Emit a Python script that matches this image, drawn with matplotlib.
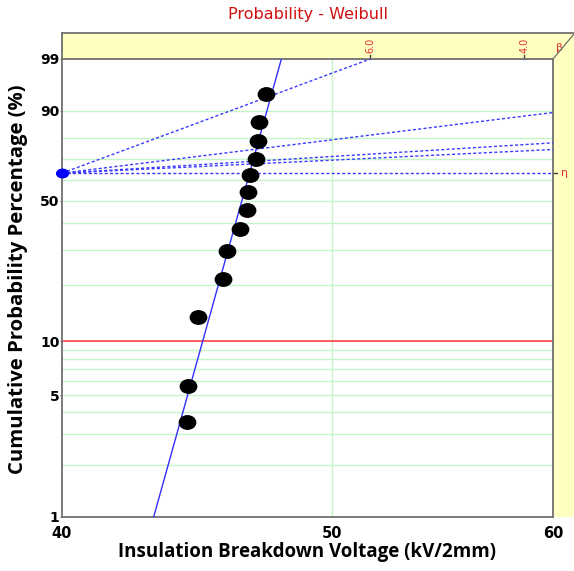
import numpy as np
import matplotlib
matplotlib.use('Agg')
import matplotlib.pyplot as plt
from matplotlib.path import Path
from matplotlib.transforms import Affine2D
from matplotlib.patches import Rectangle
from matplotlib.lines import Line2D

# ---------------- data ----------------
voltage = [44.34, 44.38, 44.76, 45.67, 45.85, 46.32, 46.60, 46.66, 46.70, 46.95, 47.01, 47.05, 47.34]
prob_pct = [3.5, 5.6, 13.6, 21.5, 29.7, 37.9, 45.9, 53.9, 62.2, 70.3, 78.3, 86.3, 94.4]
fit_beta = 58.1
fit_eta = 46.70
beta_guides = [6.0, 2.0, 1.0, 0.78, 0.0]
beta_scale_ticks = [6.0, 4.0]
ytick_pct = [1, 5, 10, 50, 90, 99]
ygrid_pct = [2, 3, 4, 5, 6, 7, 8, 9, 20, 30, 40, 50, 60, 70, 80, 90]
red_pct = 10
xticks = [40, 50, 60]
xgrid = [50]
pivot_x = 40.0

def w(p):
    p = np.asarray(p, dtype=float) / 100.0
    return np.log(-np.log(1.0 - p))

W, H, DPI = 574, 571, 100
fig = plt.figure(figsize=(W / DPI, H / DPI), dpi=DPI)
L, R, B, T = 62, 553, 517, 59  # pixel geometry of plot area
band_top = 33
ax = fig.add_axes([L / W, 1 - B / H, (R - L) / W, (B - T) / H])

ymin, ymax = w(1), w(99)
ax.set_xscale('log')
ax.set_xlim(40, 60)
ax.set_ylim(ymin, ymax)

# grid
gc = '#c4f5c4'
for g in ygrid_pct:
    ax.axhline(w(g), color=gc, lw=1.0, zorder=1)
for g in xgrid:
    ax.axvline(g, color=gc, lw=1.0, zorder=1)
ax.axhline(w(red_pct), color='#ff3030', lw=1.1, zorder=2)

# beta guide lines from pivot
for b in beta_guides:
    if b > 0:
        xe = min(60.0, pivot_x * np.exp(ymax / b))
    else:
        xe = 60.0
    xs = np.geomspace(pivot_x, xe, 50)
    ys = b * np.log(xs / pivot_x)
    ax.plot(xs, ys, color='#3a3aff', lw=1.0, ls=(0, (2.2, 1.6)), zorder=3)

# fitted line
ff = np.array([1.0, 99.0])
xf = fit_eta * (-np.log(1 - ff / 100.0)) ** (1.0 / fit_beta)
ax.plot(xf, w(ff), color='#3030ff', lw=1.0, zorder=4)

# markers
ell = Path.unit_circle().transformed(Affine2D().scale(1.0, 0.82))
ax.plot(voltage, w(prob_pct), ls='none', marker=ell, ms=11.8, color='black', zorder=5)
ell2 = Path.unit_circle().transformed(Affine2D().scale(1.0, 0.72))
ax.plot([pivot_x], [0.0], ls='none', marker=ell2, ms=8.5, color='#0000ff', zorder=6, clip_on=False)

# ticks
ax.set_yticks(w(ytick_pct))
ax.set_yticklabels([str(v) for v in ytick_pct], fontsize=10, fontweight='bold')
ax.set_xticks(xticks)
ax.set_xticklabels([str(v) for v in xticks], fontsize=10.5, fontweight='bold')
ax.xaxis.set_minor_locator(matplotlib.ticker.NullLocator())
ax.tick_params(axis='y', length=1.5, pad=0.3, color='#606060')
ax.tick_params(axis='x', length=0, pad=6.5)

for s in ax.spines.values():
    s.set_color('#707070')
    s.set_linewidth(1.3)

lab_font = dict(family=['Open Sans', 'DejaVu Sans'], fontweight='bold')
ax.set_xlabel('Insulation Breakdown Voltage (kV/2mm)', labelpad=1, fontsize=13.5, **lab_font)
ax.set_ylabel('Cumulative Probability Percentage (%)', fontsize=14.6, **lab_font)
ax.yaxis.set_label_coords(-(L - 28) / (R - L), 1 - (279 - T) / (B - T))

# yellow bands (beta / eta scales)
band = Rectangle((L / W, 1 - B / H), (W - L) / W, (B - band_top) / H,
                 transform=fig.transFigure, facecolor='#ffffc2', edgecolor='none', zorder=-1)
fig.add_artist(band)
fig.add_artist(Line2D([L / W, 1.0], [1 - band_top / H] * 2, transform=fig.transFigure,
                      color='#707070', lw=1.3))
fig.add_artist(Line2D([L / W, L / W], [1 - band_top / H, 1 - T / H], transform=fig.transFigure,
                      color='#707070', lw=1.3))
fig.add_artist(Line2D([R / W, 1.0], [1 - T / H, 1 - (band_top + 1) / H], transform=fig.transFigure,
                      color='#707070', lw=0.9))

# beta scale ticks and labels on top
for b in beta_scale_ticks:
    xb = pivot_x * np.exp(ymax / b)
    ax.plot([xb, xb], [1.0, 1.0 + 4 / (B - T)], transform=ax.get_xaxis_transform(),
            color='#404040', lw=1.0, clip_on=False)
    ax.text(xb, 1.0 + 6 / (B - T), f'{b:.1f}', transform=ax.get_xaxis_transform(),
            rotation=90, ha='center', va='bottom', fontsize=7, color='#e03030')
ax.text(1.0 + 3 / (R - L), 1.0 + 6 / (B - T), 'β', transform=ax.transAxes,
        ha='left', va='bottom', fontsize=8, color='#e03030')
# eta tick on the right
ax.plot([1.0, 1.0 + 4 / (R - L)], [0.0, 0.0], transform=ax.get_yaxis_transform(),
        color='#404040', lw=1.0, clip_on=False)
ax.text(1.0 + 8 / (R - L), 0.0, 'η', transform=ax.get_yaxis_transform(),
        ha='left', va='center', fontsize=8, color='#e03030')

fig.text((L + R) / 2 / W, 1 - 14 / H, 'Probability - Weibull', ha='center', va='center',
         fontsize=11.5, color='#d01010')

fig.savefig('out.png', dpi=DPI)
